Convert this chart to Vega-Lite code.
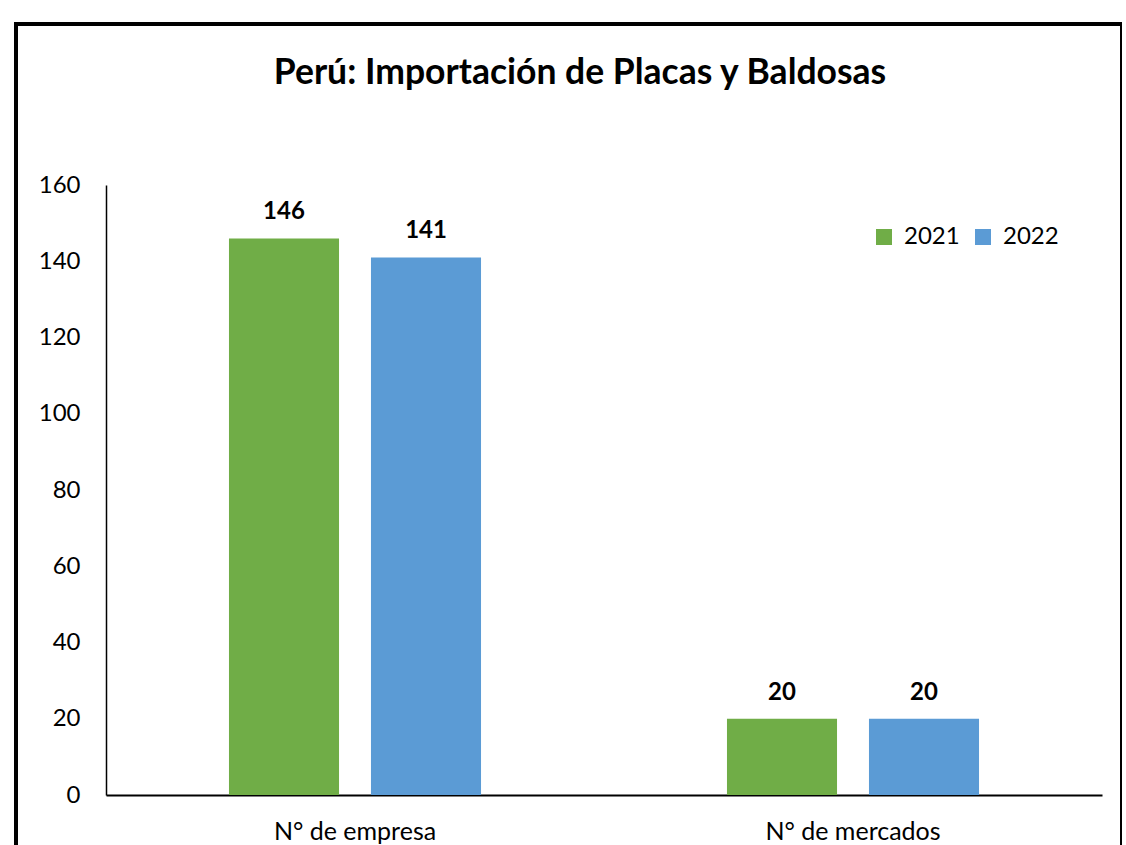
{
  "$schema": "https://vega.github.io/schema/vega-lite/v6.json",
  "autosize": "none",
  "width": 1106,
  "height": 840,
  "padding": {"left": 16, "top": 24, "right": 0, "bottom": 0},
  "background": "white",
  "config": {
    "font": "Lato",
    "view": {"stroke": "black", "strokeWidth": 4},
    "axis": {"labelFont": "Lato", "labelColor": "black", "labelFontSize": 24, "domainColor": "black", "ticks": false, "grid": false, "title": null}
  },
  "title": {
    "text": "Perú: Importación de Placas y Baldosas",
    "font": "Lato",
    "fontSize": 35.5,
    "fontWeight": "bold",
    "color": "black",
    "anchor": "middle",
    "offset": -67,
    "dx": 11
  },
  "data": {
    "values": [
      {"categoria": "N° de empresa", "anio": "2021", "valor": 146},
      {"categoria": "N° de empresa", "anio": "2022", "valor": 141},
      {"categoria": "N° de mercados", "anio": "2021", "valor": 20},
      {"categoria": "N° de mercados", "anio": "2022", "valor": 20}
    ]
  },
  "encoding": {
    "x": {
      "field": "categoria",
      "type": "nominal",
      "sort": null,
      "scale": {"range": [90, 1086], "paddingInner": 0, "paddingOuter": 0},
      "axis": {"orient": "bottom", "offset": -69, "labelAngle": 0, "labelPadding": 24, "labelFontSize": 25, "domainWidth": 2}
    },
    "xOffset": {
      "field": "anio",
      "type": "nominal",
      "scale": {"paddingInner": 0.225, "paddingOuter": 0.866}
    },
    "y": {
      "field": "valor",
      "type": "quantitative",
      "scale": {"domain": [0, 160], "range": [771, 161], "nice": false},
      "axis": {"orient": "left", "offset": -90, "values": [0, 20, 40, 60, 80, 100, 120, 140, 160], "labelPadding": 26, "domainWidth": 1.5}
    }
  },
  "layer": [
    {
      "mark": {"type": "bar"},
      "encoding": {
        "color": {
          "field": "anio",
          "type": "nominal",
          "scale": {"domain": ["2021", "2022"], "range": ["#70AD47", "#5B9BD5"]},
          "legend": {
            "title": null,
            "orient": "none",
            "legendX": 856,
            "legendY": 201,
            "direction": "horizontal",
            "symbolType": "square",
            "symbolSize": 256,
            "symbolStrokeWidth": 0,
            "labelFont": "Lato",
            "labelFontSize": 24,
            "labelColor": "black",
            "labelOffset": 8,
            "columnPadding": 11
          }
        }
      }
    },
    {
      "mark": {"type": "text", "fontWeight": "bold", "fontSize": 24, "baseline": "alphabetic", "dy": -19, "color": "black", "font": "Lato"},
      "encoding": {
        "text": {"field": "valor", "type": "quantitative"}
      }
    }
  ]
}
